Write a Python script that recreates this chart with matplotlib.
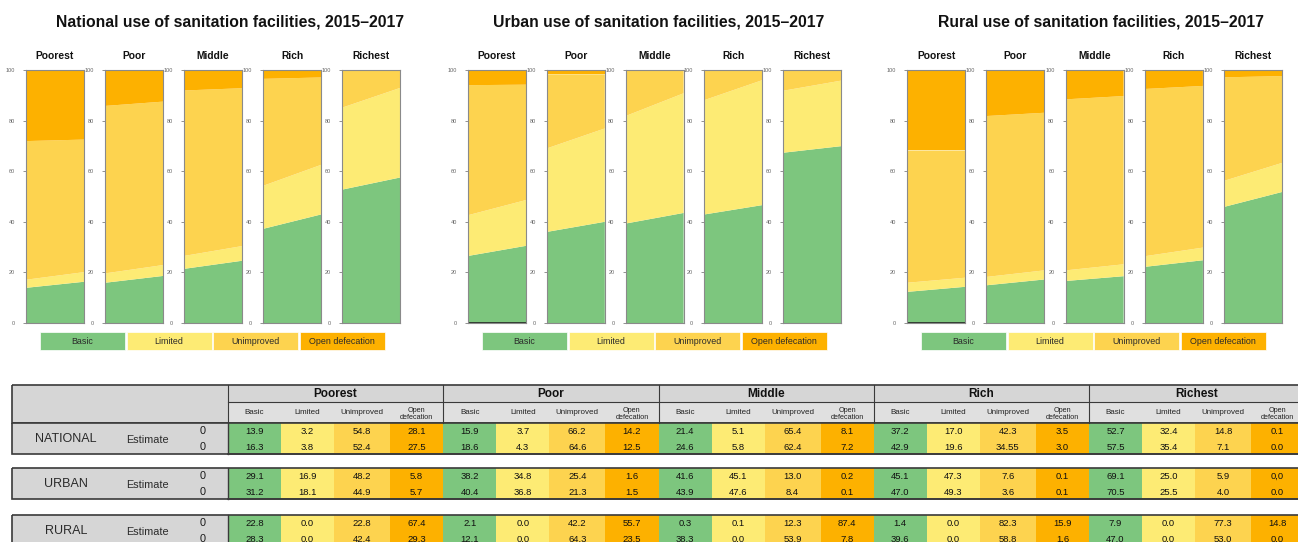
import numpy as np
import matplotlib.pyplot as plt
from matplotlib.patches import Rectangle

W, H = 1298, 542

quintiles = ["Poorest", "Poor", "Middle", "Rich", "Richest"]
categories = ["Basic", "Limited", "Unimproved", "Open defecation"]
colors = ["#7dc67e", "#fdeb74", "#fdd34f", "#fdb100"]

chart_titles = ["National use of sanitation facilities, 2015\u20132017",
                "Urban use of sanitation facilities, 2015\u20132017",
                "Rural use of sanitation facilities, 2015\u20132017"]

# chart shares per quintile at start / end: basic, limited, unimproved, open defecation
national_start = [[13.9, 3.2, 54.8, 28.1], [15.9, 3.7, 66.2, 14.2], [21.4, 5.1, 65.4, 8.1],
                  [37.2, 17.0, 42.3, 3.5], [52.7, 32.4, 14.8, 0.1]]
national_end = [[16.3, 3.8, 52.4, 27.5], [18.6, 4.3, 64.6, 12.5], [24.6, 5.8, 62.4, 7.2],
                [42.9, 19.6, 34.55, 3.0], [57.5, 35.4, 7.1, 0.0]]
urban_start = [[26.5, 16.1, 51.4, 6.0], [36.0, 33.0, 29.3, 1.7], [39.3, 42.5, 18.0, 0.2],
               [42.9, 45.2, 11.8, 0.1], [67.3, 24.5, 8.2, 0.0]]
urban_end = [[30.5, 18.1, 45.6, 5.8], [40.0, 36.9, 21.4, 1.7], [43.5, 47.3, 9.1, 0.1],
             [46.6, 49.4, 3.9, 0.1], [69.9, 25.9, 4.2, 0.0]]
rural_start = [[12.3, 3.6, 52.3, 31.8], [14.9, 3.3, 63.6, 18.2], [16.6, 4.2, 67.6, 11.6],
               [22.2, 4.2, 66.1, 7.5], [45.9, 10.3, 40.9, 2.9]]
rural_end = [[14.3, 3.6, 50.3, 31.8], [17.2, 3.6, 62.3, 16.9], [18.5, 4.7, 66.5, 10.3],
             [24.8, 5.0, 63.9, 6.3], [51.8, 11.5, 34.3, 2.4]]

# table
sub_headers = ["Basic", "Limited", "Unimproved", "Open\ndefecation"]
areas = ["NATIONAL", "URBAN", "RURAL"]
national_row1 = ["13.9", "3.2", "54.8", "28.1", "15.9", "3.7", "66.2", "14.2", "21.4", "5.1",
                 "65.4", "8.1", "37.2", "17.0", "42.3", "3.5", "52.7", "32.4", "14.8", "0.1"]
national_row2 = ["16.3", "3.8", "52.4", "27.5", "18.6", "4.3", "64.6", "12.5", "24.6", "5.8",
                 "62.4", "7.2", "42.9", "19.6", "34.55", "3.0", "57.5", "35.4", "7.1", "0.0"]
urban_row1 = ["29.1", "16.9", "48.2", "5.8", "38.2", "34.8", "25.4", "1.6", "41.6", "45.1",
              "13.0", "0.2", "45.1", "47.3", "7.6", "0.1", "69.1", "25.0", "5.9", "0,0"]
urban_row2 = ["31.2", "18.1", "44.9", "5.7", "40.4", "36.8", "21.3", "1.5", "43.9", "47.6",
              "8.4", "0.1", "47.0", "49.3", "3.6", "0.1", "70.5", "25.5", "4.0", "0.0"]
rural_row1 = ["22.8", "0.0", "22.8", "67.4", "2.1", "0.0", "42.2", "55.7", "0.3", "0.1",
              "12.3", "87.4", "1.4", "0.0", "82.3", "15.9", "7.9", "0.0", "77.3", "14.8"]
rural_row2 = ["28.3", "0.0", "42.4", "29.3", "12.1", "0.0", "64.3", "23.5", "38.3", "0.0",
              "53.9", "7.8", "39.6", "0.0", "58.8", "1.6", "47.0", "0.0", "53.0", "0.0"]

plt.rcParams['font.family'] = ['Liberation Sans', 'DejaVu Sans']

fig = plt.figure(figsize=(W / 100, H / 100), dpi=100)
bg = fig.add_axes([0, 0, 1, 1])
bg.set_xlim(0, W)
bg.set_ylim(H, 0)
bg.axis("off")


def px_axes(x0, y0, w, h):
    return fig.add_axes([x0 / W, 1 - (y0 + h) / H, w / W, h / H])


# ---- charts ----
chart_left = [26, 468, 907]
chart_step = [79, 78.8, 79.3]
title_x = [230, 659, 1101]
starts = [national_start, urban_start, rural_start]
ends = [national_end, urban_end, rural_end]
panel_top, panel_h, panel_w = 70, 253, 58

for c in range(3):
    bg.text(title_x[c], 22, chart_titles[c], fontsize=11.3, fontweight="bold",
            ha="center", va="center", color="#111111")
    for q in range(5):
        x0 = chart_left[c] + q * chart_step[c]
        ax = px_axes(x0, panel_top, panel_w, panel_h)
        vals = np.array([starts[c][q], ends[c][q]]).T
        ax.stackplot([0, 1], vals, colors=colors, linewidth=0)
        ax.set_xlim(0, 1)
        ax.set_ylim(0, 100)
        ax.set_xticks([])
        ax.set_yticks(range(0, 101, 20))
        ax.tick_params(axis="y", labelsize=4, colors="#666666", length=2, width=0.5, pad=6)
        for s in ax.spines.values():
            s.set_color("#8a8a8a")
            s.set_linewidth(0.8)
        if q == 0:
            ax.axhline(100, color="#222222", lw=1.2)
            if c > 0:
                ax.axhline(0, color="#222222", lw=1.2)
        bg.text(x0 + panel_w / 2, 56, quintiles[q], fontsize=7.4, fontweight="bold",
                ha="center", va="center", color="#111111")
    # legend boxes
    lx = chart_left[c] + 14
    for k in range(4):
        bg.add_patch(Rectangle((lx + k * 86.5, 332), 85, 18, facecolor=colors[k],
                               edgecolor="white", lw=0.5))
        bg.text(lx + k * 86.5 + 42.5, 341.5, categories[k], fontsize=6.4,
                ha="center", va="center", color="#2a2a2a")

# ---- table ----
line_c = "#3a3a3a"
tab_left, lab_right = 12, 228
grp_w = 215.25
sub_edges = [0, 53, 106, 162, grp_w]
head_top, head_mid, head_bot = 385, 402, 423
tab_right = lab_right + 5 * grp_w
narrow = ['Liberation Sans Narrow', 'Liberation Sans', 'DejaVu Sans']

bg.add_patch(Rectangle((tab_left, head_top), tab_right - tab_left, head_mid - head_top,
                       facecolor="#d6d6d6", edgecolor="none"))
bg.add_patch(Rectangle((tab_left, head_mid), tab_right - tab_left, head_bot - head_mid,
                       facecolor="#e0e0e0", edgecolor="none"))
bg.add_patch(Rectangle((tab_left, head_top), lab_right - tab_left, head_bot - head_top,
                       facecolor="#d6d6d6", edgecolor="none"))
bg.add_patch(Rectangle((tab_left, head_top), tab_right - tab_left, head_bot - head_top,
                       facecolor="none", edgecolor=line_c, lw=1.2))
bg.plot([lab_right, tab_right], [head_mid, head_mid], color=line_c, lw=0.8)
for g in range(5):
    gx = lab_right + g * grp_w
    bg.plot([gx, gx], [head_top, head_bot], color=line_c, lw=0.8)
    bg.text(gx + grp_w / 2, (head_top + head_mid) / 2 + 0.5, quintiles[g], fontsize=8.5,
            fontweight="bold", ha="center", va="center", color="#111111")
    for k in range(4):
        cx = gx + (sub_edges[k] + sub_edges[k + 1]) / 2
        if k == 3:
            bg.text(cx, 414, sub_headers[k], fontsize=5.2, ha="center", va="center",
                    color="#222222", linespacing=1.0, family=narrow)
        else:
            bg.text(cx, 412, sub_headers[k], fontsize=5.8, ha="center", va="center",
                    color="#222222", family=narrow)

block_tops = [423, 468, 515]
rows = [(national_row1, national_row2), (urban_row1, urban_row2), (rural_row1, rural_row2)]
row_h = 15.7
for b in range(3):
    top = block_tops[b]
    bh = 2 * row_h
    bg.add_patch(Rectangle((tab_left, top), lab_right - tab_left, bh,
                           facecolor="#d6d6d6", edgecolor="none"))
    for g in range(5):
        gx = lab_right + g * grp_w
        for k in range(4):
            bg.add_patch(Rectangle((gx + sub_edges[k], top), sub_edges[k + 1] - sub_edges[k], bh,
                                   facecolor=colors[k], edgecolor="none"))
    bg.add_patch(Rectangle((tab_left, top), tab_right - tab_left, bh,
                           facecolor="none", edgecolor=line_c, lw=1.2))
    bg.plot([lab_right, lab_right], [top, top + bh], color=line_c, lw=1.0)
    bg.text(66, top + bh / 2, areas[b], fontsize=9, ha="center", va="center", color="#2a2a2a")
    bg.text(147, top + bh / 2 + 1, "Estimate", fontsize=7.8, ha="center", va="center",
            color="#2a2a2a")
    for r in range(2):
        ry = top + row_h * (r + 0.5) + 0.5
        bg.text(203, ry, "0", fontsize=7.8, ha="center", va="center", color="#1a1a1a")
        for j, v in enumerate(rows[b][r]):
            g, k = divmod(j, 4)
            cx = lab_right + g * grp_w + (sub_edges[k] + sub_edges[k + 1]) / 2
            bg.text(cx, ry, v, fontsize=6.8, ha="center", va="center", color="#111111",
                    family=narrow)
    bg.plot([lab_right, tab_right], [top + bh - 0.5, top + bh - 0.5], color=line_c, lw=1.2)

fig.savefig("out.png", dpi=100)
